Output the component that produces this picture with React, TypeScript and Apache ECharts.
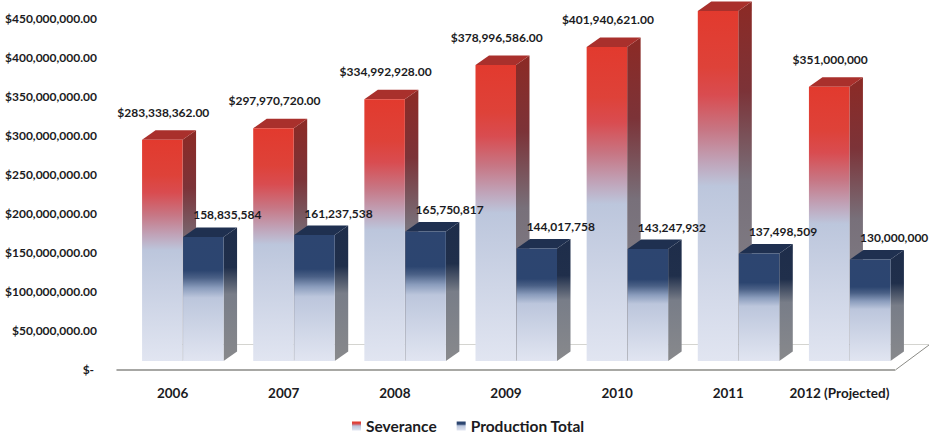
import React, { useEffect, useRef } from "react";
import * as echarts from "echarts";

const years = ["2006", "2007", "2008", "2009", "2010", "2011", "2012 (Projected)"];
const severance = [283338362, 297970720, 334992928, 378996586, 401940621, 448000000, 351000000];
const productionTotal = [158835584, 161237538, 165750817, 144017758, 143247932, 137498509, 130000000];
const severanceLabels = [
  "$283,338,362.00",
  "$297,970,720.00",
  "$334,992,928.00",
  "$378,996,586.00",
  "$401,940,621.00",
  "",
  "$351,000,000",
];
const productionLabels = [
  "158,835,584",
  "161,237,538",
  "165,750,817",
  "144,017,758",
  "143,247,932",
  "137,498,509",
  "130,000,000",
];

const FONT = "Lato, 'Open Sans', sans-serif";
const TEXT = "#1b1b22";
const vertical = (stops: [number, string][]) =>
  new echarts.graphic.LinearGradient(0, 0, 0, 1, stops.map(([offset, color]) => ({ offset, color })));

interface BarLook {
  front: [number, string][];
  side: [number, string][];
  top: string;
  shiftX: number;
  labels: string[];
  labelX: number;
  labelY: number;
}

const severanceLook: BarLook = {
  front: [
    [0, "#e23a2e"],
    [0.16, "#de4239"],
    [0.24, "#d94c50"],
    [0.34, "#c77684"],
    [0.43, "#c0a3b8"],
    [0.5, "#bcc6dc"],
    [1, "#e1e5f1"],
  ],
  side: [
    [0, "#8c2a25"],
    [0.25, "#7c3338"],
    [0.5, "#78707a"],
    [1, "#85868c"],
  ],
  top: "#a9302c",
  shiftX: -41,
  labels: severanceLabels,
  labelX: 1,
  labelY: -27.5,
};

const productionLook: BarLook = {
  front: [
    [0, "#2d4570"],
    [0.27, "#2c4570"],
    [0.33, "#4a6086"],
    [0.41, "#8a9cbc"],
    [0.49, "#bcc6dc"],
    [1, "#e1e5f1"],
  ],
  side: [
    [0, "#1e2d4a"],
    [0.3, "#202f4b"],
    [0.5, "#787d88"],
    [1, "#88898c"],
  ],
  top: "#1f3050",
  shiftX: 0,
  labels: productionLabels,
  labelX: 24,
  labelY: -22,
};

// The bars stand on a floor that sits above and to the right of the axis line.
const FLOOR_X = 10.5;
const FLOOR_Y = -8.5;
const BAR_W = 40.5;
const DEPTH_X = 13.5;
const DEPTH_Y = -9.5;

const boxRenderer = (look: BarLook) => (params: any, api: any) => {
  const [cx, top] = api.coord([api.value(0), api.value(1)]);
  const [, base] = api.coord([api.value(0), 0]);
  const x0 = cx + FLOOR_X + look.shiftX;
  const x1 = x0 + BAR_W;
  const y0 = top + FLOOR_Y;
  const y1 = base + FLOOR_Y;
  const children: any[] = [
    {
      type: "polygon",
      shape: {
        points: [
          [x1, y0],
          [x1 + DEPTH_X, y0 + DEPTH_Y],
          [x1 + DEPTH_X, y1 + DEPTH_Y],
          [x1, y1],
        ],
      },
      style: { fill: vertical(look.side) },
    },
    {
      type: "polygon",
      shape: {
        points: [
          [x0, y0],
          [x0 + DEPTH_X, y0 + DEPTH_Y],
          [x1 + DEPTH_X, y0 + DEPTH_Y],
          [x1, y0],
        ],
      },
      style: { fill: look.top },
    },
    {
      type: "rect",
      shape: { x: x0, y: y0, width: x1 - x0, height: y1 - y0 },
      style: { fill: vertical(look.front) },
    },
  ];
  const text = look.labels[params.dataIndex];
  if (text) {
    children.push({
      type: "text",
      x: (x0 + x1) / 2 + look.labelX,
      y: y0 + look.labelY,
      z2: 10,
      style: {
        text,
        align: "center",
        verticalAlign: "middle",
        fill: TEXT,
        font: `bold 12px ${FONT}`,
      },
    });
  }
  return { type: "group", children };
};

export default function App() {
  const ref = useRef<HTMLDivElement>(null);

  useEffect(() => {
    const chart = echarts.init(ref.current!, null, { renderer: "svg" });
    chart.setOption({
      animation: false,
      backgroundColor: "#ffffff",
      grid: { left: 117, right: 34, top: 18, bottom: 65.5 },
      legend: {
        top: 413,
        left: 347,
        itemWidth: 9,
        itemHeight: 9,
        itemGap: 20,
        icon: "rect",
        textStyle: { fontFamily: FONT, fontWeight: "bold", fontSize: 15.5, lineHeight: 14, color: TEXT },
        data: [
          { name: "Severance", itemStyle: { color: vertical(severanceLook.front) } },
          { name: "Production Total", itemStyle: { color: vertical(productionLook.front) } },
        ],
      },
      xAxis: {
        type: "category",
        data: years,
        axisTick: { show: false },
        axisLine: { lineStyle: { color: "#8b8b86", width: 1.5 } },
        axisLabel: { margin: 16, color: TEXT, fontFamily: FONT, fontWeight: "bold", fontSize: 13.5, interval: 0 },
      },
      yAxis: {
        type: "value",
        min: 0,
        max: 450000000,
        interval: 50000000,
        axisLine: { show: false },
        axisTick: { show: false },
        splitLine: { show: false },
        axisLabel: {
          margin: 20,
          color: TEXT,
          fontFamily: FONT,
          fontWeight: "bold",
          fontSize: 12,
          formatter: (v: number) =>
            v === 0 ? "$- " : "$" + v.toLocaleString("en-US", { minimumFractionDigits: 2 }),
        },
      },
      graphic: {
        elements: [
          {
            type: "polyline",
            silent: true,
            shape: { points: [[143, 344.5], [929, 344.5]] },
            style: { stroke: "#d4d4d0", lineWidth: 1, fill: "none" },
          },
          {
            type: "line",
            silent: true,
            shape: { x1: 896, y1: 369.5, x2: 929, y2: 345 },
            style: { stroke: "#8b8b86", lineWidth: 1 },
          },
        ],
      },
      series: [
        {
          name: "Severance",
          type: "custom",
          data: severance.map((v, i) => [i, v]),
          encode: { x: 0, y: 1 },
          clip: false,
          itemStyle: { color: "#e23a2e" },
          renderItem: boxRenderer(severanceLook),
        },
        {
          name: "Production Total",
          type: "custom",
          data: productionTotal.map((v, i) => [i, v]),
          encode: { x: 0, y: 1 },
          clip: false,
          itemStyle: { color: "#2c4570" },
          renderItem: boxRenderer(productionLook),
        },
      ],
    });
    return () => chart.dispose();
  }, []);

  return <div ref={ref} style={{ position: "fixed", left: 0, top: 0, width: 929, height: 435 }} />;
}
